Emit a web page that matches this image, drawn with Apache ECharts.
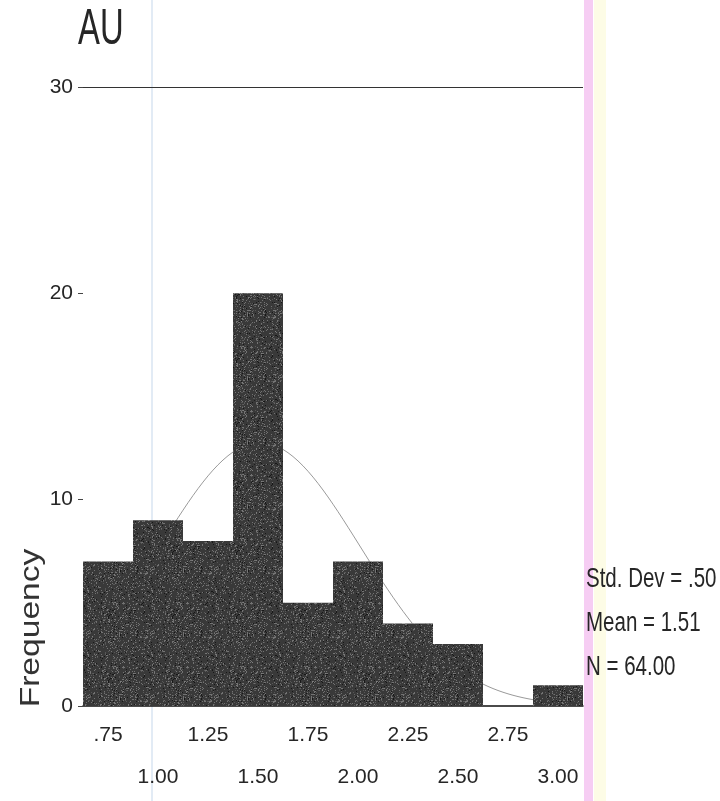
<!DOCTYPE html>
<html>
<head>
<meta charset="utf-8">
<script src="https://cdn.jsdelivr.net/npm/echarts@6/dist/echarts.min.js"></script>
<style>
  html, body { margin: 0; padding: 0; background: #fff; }
  #chart { width: 720px; height: 801px; }
</style>
</head>
<body>
<div id="chart"></div>
<script>
// Histogram of AU with fitted normal curve
const categories = ['.75', '1.00', '1.25', '1.50', '1.75', '2.00', '2.25', '2.50', '2.75', '3.00'];
const binCenters = [0.75, 1.00, 1.25, 1.50, 1.75, 2.00, 2.25, 2.50, 2.75, 3.00];
const frequencies = [7, 9, 8, 20, 5, 7, 4, 3, 0, 1];
const yTicks = [0, 10, 20, 30];
const stdDev = 0.50;
const mean = 1.51;
const n = 64;
const binWidth = 0.25;

const sans = "'Liberation Sans', Arial, sans-serif";
const ink = '#262626';

// normal curve scaled to counts per bin, from the reported mean / sd / N
const xLo = binCenters[0] - binWidth / 2;
const xHi = binCenters[binCenters.length - 1] + binWidth / 2;
const curve = [];
for (let k = 0; k <= 100; k++) {
  const x = xLo + (xHi - xLo) * k / 100;
  const z = (x - mean) / stdDev;
  curve.push([x, n * binWidth / (stdDev * Math.sqrt(2 * Math.PI)) * Math.exp(-z * z / 2)]);
}

// grainy dark fill for the bars
function grainPattern() {
  const c = document.createElement('canvas');
  c.width = 64; c.height = 64;
  const g = c.getContext('2d');
  g.fillStyle = '#393939';
  g.fillRect(0, 0, 64, 64);
  let s = 12345;
  const next = () => { s = (s * 1103515245 + 12345) % 2147483648; return s / 2147483648; };
  for (let i = 0; i < 1000; i++) {
    const x = Math.floor(next() * 64), y = Math.floor(next() * 64);
    const v = next();
    g.fillStyle = v < 0.5 ? 'rgba(130,130,130,0.8)' : (v < 0.8 ? 'rgba(95,95,95,0.8)' : 'rgba(20,20,20,0.9)');
    g.fillRect(x, y, 1, 1);
  }
  return c;
}

// condensed, slightly tall text as printed
function printed(text, x, y, size, extra) {
  return Object.assign({
    type: 'text', x: x, y: y, scaleX: 0.82, scaleY: 1.1,
    style: { text: text, fontFamily: sans, fontSize: size, fill: ink, textVerticalAlign: 'middle' }
  }, extra || {});
}

const chart = echarts.init(document.getElementById('chart'));
chart.setOption({
  backgroundColor: '#ffffff',
  animation: false,
  grid: { left: 83, right: 137, top: 87, bottom: 95 },
  xAxis: [
    {
      type: 'category', data: categories, position: 'bottom',
      axisLine: { lineStyle: { color: '#111', width: 1.5 } },
      axisTick: { alignWithLabel: true, length: 6, lineStyle: { color: '#444' } },
      axisLabel: { interval: (i) => i % 2 === 0, margin: 19, fontFamily: sans, fontSize: 21, color: ink },
      splitLine: { show: false }
    },
    {
      type: 'category', data: categories, position: 'bottom',
      axisLine: { show: false }, axisTick: { show: false },
      axisLabel: { interval: (i) => i % 2 === 1, margin: 61, fontFamily: sans, fontSize: 21, color: ink },
      splitLine: { show: false }
    },
    { type: 'value', min: xLo, max: xHi, show: false }
  ],
  yAxis: {
    type: 'value', min: yTicks[0], max: yTicks[yTicks.length - 1], interval: 10,
    axisLine: { show: false },
    axisTick: { show: true, length: 5, lineStyle: { color: '#444' } },
    axisLabel: { margin: 10, fontFamily: sans, fontSize: 21, color: ink },
    splitLine: { show: false }
  },
  series: [
    {
      type: 'line', xAxisIndex: 2, data: curve, showSymbol: false, smooth: false, z: 1,
      lineStyle: { color: '#9a9a9a', width: 1 }
    },
    {
      type: 'bar', xAxisIndex: 0, data: frequencies, barCategoryGap: '0%', z: 2,
      itemStyle: { color: { image: grainPattern(), repeat: 'repeat' } },
      markLine: {
        silent: true, symbol: 'none', label: { show: false },
        lineStyle: { color: '#333', width: 1.2, type: 'solid' },
        data: [{ yAxis: yTicks[yTicks.length - 1] }]
      }
    }
  ],
  graphic: [
    { type: 'rect', z: -1, shape: { x: 584, y: 0, width: 9, height: 801 }, style: { fill: '#f6cdf3' } },
    { type: 'rect', z: -1, shape: { x: 594, y: 0, width: 12, height: 801 }, style: { fill: '#fdfce6' } },
    { type: 'line', z: -1, shape: { x1: 152, y1: 0, x2: 152, y2: 801 }, style: { stroke: '#d9e5f2', lineWidth: 1.5 } },
    printed('AU', 78, 30, 40, { scaleX: 0.82, scaleY: 1.27 }),
    {
      type: 'text', x: 31, y: 628, rotation: Math.PI / 2, scaleX: 1.2,
      style: { text: 'Frequency', fontFamily: sans, fontSize: 28, fill: '#333', textAlign: 'center', textVerticalAlign: 'middle' }
    },
    printed('Std. Dev = .50', 586, 579, 25),
    printed('Mean = 1.51', 586, 623, 25),
    printed('N = 64.00', 586, 667, 25)
  ]
});
</script>
</body>
</html>
